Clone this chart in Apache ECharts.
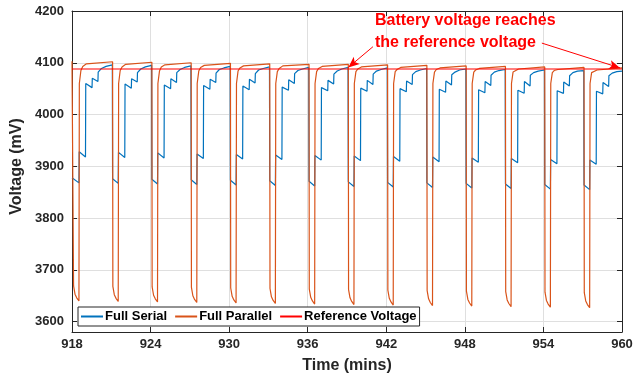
<!DOCTYPE html>
<html>
<head>
<meta charset="utf-8">
<script src="https://cdn.jsdelivr.net/npm/echarts@6/dist/echarts.min.js"></script>
<style>
html, body { margin: 0; padding: 0; background: #fff; }
#chart { width: 642px; height: 379px; }
</style>
</head>
<body>
<div id="chart"></div>
<script>
// x ticks (mins)
const timeTicks = [918, 924, 930, 936, 942, 948, 954, 960];
const refVoltage = 4088;

// Full Serial, [time, mV], one row per cycle
const serialPts = [
    [918, 3878], [918.53, 3868], [918.55, 3928], [919.03, 3918], [919.05, 4060], [919.53, 4052], [919.55, 4070], [919.98, 4064], [920, 4082], [920.25, 4089], [920.6, 4093], [921.08, 4096],
    [921.1, 3876], [921.53, 3867], [921.55, 3927], [922.03, 3917], [922.05, 4059], [922.53, 4051], [922.55, 4069], [922.98, 4063], [923, 4081], [923.25, 4088], [923.6, 4092], [924.08, 4095],
    [924.1, 3875], [924.53, 3866], [924.55, 3926], [925.03, 3916], [925.05, 4057], [925.53, 4050], [925.55, 4069], [925.98, 4062], [926, 4081], [926.25, 4087], [926.6, 4091], [927.08, 4094],
    [927.1, 3874], [927.53, 3865], [927.55, 3924], [928.03, 3915], [928.05, 4056], [928.53, 4049], [928.55, 4068], [928.98, 4062], [929, 4080], [929.25, 4087], [929.6, 4090], [930.08, 4093],
    [930.1, 3873], [930.53, 3864], [930.55, 3923], [931.03, 3914], [931.05, 4055], [931.53, 4048], [931.55, 4068], [931.98, 4061], [932, 4079], [932.25, 4086], [932.6, 4089], [933.08, 4092],
    [933.1, 3872], [933.53, 3863], [933.55, 3922], [934.03, 3913], [934.05, 4053], [934.53, 4047], [934.55, 4067], [934.98, 4060], [935, 4079], [935.25, 4085], [935.6, 4088], [936.08, 4091],
    [936.1, 3871], [936.53, 3862], [936.55, 3921], [937.03, 3912], [937.05, 4052], [937.53, 4046], [937.55, 4066], [937.98, 4059], [938, 4078], [938.25, 4084], [938.6, 4088], [939.08, 4091],
    [939.1, 3870], [939.53, 3861], [939.55, 3920], [940.03, 3911], [940.05, 4051], [940.53, 4045], [940.55, 4066], [940.98, 4058], [941, 4078], [941.25, 4084], [941.6, 4087], [942.08, 4090],
    [942.1, 3869], [942.53, 3860], [942.55, 3919], [943.03, 3910], [943.05, 4050], [943.53, 4044], [943.55, 4065], [943.98, 4058], [944, 4077], [944.25, 4083], [944.6, 4086], [945.08, 4089],
    [945.1, 3868], [945.53, 3859], [945.55, 3918], [946.03, 3909], [946.05, 4049], [946.53, 4043], [946.55, 4065], [946.98, 4057], [947, 4077], [947.25, 4082], [947.6, 4086], [948.08, 4088],
    [948.1, 3867], [948.53, 3858], [948.55, 3916], [949.03, 3908], [949.05, 4048], [949.53, 4042], [949.55, 4064], [949.98, 4056], [950, 4076], [950.25, 4082], [950.6, 4085], [951.08, 4087],
    [951.1, 3866], [951.53, 3857], [951.55, 3915], [952.03, 3907], [952.05, 4047], [952.53, 4041], [952.55, 4064], [952.98, 4055], [953, 4076], [953.25, 4081], [953.6, 4084], [954.08, 4086],
    [954.1, 3865], [954.53, 3856], [954.55, 3913], [955.03, 3905], [955.05, 4046], [955.53, 4041], [955.55, 4063], [955.98, 4055], [956, 4075], [956.25, 4081], [956.6, 4084], [957.08, 4085],
    [957.1, 3864], [957.53, 3855], [957.55, 3912], [958.03, 3904], [958.05, 4045], [958.53, 4040], [958.55, 4062], [958.98, 4054], [959, 4075], [959.25, 4080], [959.6, 4083], [960, 4084]
];

// Full Parallel, [time, mV]
const parallelPts = [
    [918, 4103],
    [918.1, 4103], [918.12, 3669], [918.23, 3653], [918.36, 3646], [918.53, 3640], [918.56, 4060], [918.68, 4085], [918.82, 4093], [919.1, 4098],
    [921.1, 4102], [921.12, 3668], [921.23, 3652], [921.36, 3645], [921.53, 3639], [921.56, 4060], [921.68, 4085], [921.82, 4092], [922.1, 4097],
    [924.1, 4101], [924.12, 3667], [924.23, 3651], [924.36, 3644], [924.53, 3638], [924.56, 4060], [924.68, 4084], [924.82, 4092], [925.1, 4096],
    [927.1, 4100], [927.12, 3666], [927.23, 3650], [927.36, 3643], [927.53, 3637], [927.56, 4060], [927.68, 4084], [927.82, 4091], [928.1, 4095],
    [930.1, 4099], [930.12, 3665], [930.23, 3649], [930.36, 3642], [930.53, 3636], [930.56, 4060], [930.68, 4084], [930.82, 4090], [931.1, 4094],
    [933.1, 4098], [933.12, 3664], [933.23, 3648], [933.36, 3641], [933.53, 3635], [933.56, 4060], [933.68, 4083], [933.82, 4089], [934.1, 4094],
    [936.1, 4097], [936.12, 3663], [936.23, 3647], [936.36, 3640], [936.53, 3634], [936.56, 4060], [936.68, 4083], [936.82, 4089], [937.1, 4093],
    [939.1, 4097], [939.12, 3662], [939.23, 3646], [939.36, 3639], [939.53, 3633], [939.56, 4060], [939.68, 4083], [939.82, 4088], [940.1, 4092],
    [942.1, 4096], [942.12, 3661], [942.23, 3645], [942.36, 3638], [942.53, 3632], [942.56, 4060], [942.68, 4083], [942.82, 4087], [943.1, 4091],
    [945.1, 4095], [945.12, 3660], [945.23, 3644], [945.36, 3637], [945.53, 3631], [945.56, 4060], [945.68, 4082], [945.82, 4087], [946.1, 4090],
    [948.1, 4094], [948.12, 3659], [948.23, 3643], [948.36, 3636], [948.53, 3630], [948.56, 4060], [948.68, 4082], [948.82, 4086], [949.1, 4089],
    [951.1, 4093], [951.12, 3658], [951.23, 3642], [951.36, 3635], [951.53, 3629], [951.56, 4060], [951.68, 4082], [951.82, 4085], [952.1, 4088],
    [954.1, 4092], [954.12, 3657], [954.23, 3641], [954.36, 3634], [954.53, 3628], [954.56, 4060], [954.68, 4081], [954.82, 4085], [955.1, 4087],
    [957.1, 4091], [957.12, 3656], [957.23, 3640], [957.36, 3633], [957.53, 3627], [957.56, 4060], [957.68, 4081], [957.82, 4084], [958.1, 4086],
    [960, 4090]
];

const refPts = [[918, refVoltage], [960, refVoltage]];

// annotation arrows [from, to] in data coords
const arrowCoords = [
    [[940.98, 4131], [939.1, 4091]],
    [[953.88, 4138], [959.85, 4090]]
];

const FONT = '"Liberation Sans", Arial, Helvetica, sans-serif';
const AXIS_COLOR = '#262626';

var myChart = echarts.init(document.getElementById('chart'), null, { renderer: 'canvas' });

function boxAxis(extra) {
    return Object.assign({
        axisLine: { show: true, lineStyle: { color: AXIS_COLOR, width: 1 } },
        axisTick: { show: true, inside: true, length: 5, lineStyle: { color: AXIS_COLOR } },
        axisLabel: { show: false },
        splitLine: { show: false }
    }, extra);
}

var option = {
    animation: false,
    backgroundColor: '#fff',
    grid: { left: 72, right: 20, top: 11, bottom: 46 },
    legend: {
        left: 78,
        top: 307,
        padding: [3, 3, 3, 3],
        icon: 'rect',
        itemWidth: 22,
        itemHeight: 2,
        itemGap: 8,
        backgroundColor: '#fff',
        borderColor: AXIS_COLOR,
        borderWidth: 1,
        borderRadius: 0,
        textStyle: { fontFamily: FONT, fontWeight: 'bold', fontSize: 13, color: '#000', padding: [0, 0, 0, -3] },
        data: ['Full Serial', 'Full Parallel', 'Reference Voltage']
    },
    xAxis: [
        {
            type: 'value',
            min: timeTicks[0],
            max: timeTicks[timeTicks.length - 1],
            interval: 6,
            name: 'Time (mins)',
            nameLocation: 'middle',
            nameGap: 26,
            nameTextStyle: { fontFamily: FONT, fontWeight: 'bold', fontSize: 16, color: AXIS_COLOR },
            axisLine: { show: true, lineStyle: { color: AXIS_COLOR, width: 1 } },
            axisTick: { show: true, inside: true, length: 5, lineStyle: { color: AXIS_COLOR } },
            axisLabel: { margin: 6, fontFamily: FONT, fontWeight: 'bold', fontSize: 13, color: AXIS_COLOR },
            splitLine: { show: true, lineStyle: { color: '#dfdfdf', width: 1 } }
        },
        boxAxis({ type: 'value', position: 'top', min: 918, max: 960, interval: 6 })
    ],
    yAxis: [
        {
            type: 'value',
            min: 3580,
            max: 4200,
            splitNumber: 6,
            name: 'Voltage (mV)',
            nameLocation: 'middle',
            nameGap: 42,
            nameTextStyle: { fontFamily: FONT, fontWeight: 'bold', fontSize: 16, color: AXIS_COLOR, padding: [0, 0, 0, 10] },
            axisLine: { show: true, lineStyle: { color: AXIS_COLOR, width: 1 } },
            axisTick: { show: true, inside: true, length: 5, lineStyle: { color: AXIS_COLOR } },
            axisLabel: {
                margin: 8, fontFamily: FONT, fontWeight: 'bold', fontSize: 13, color: AXIS_COLOR,
                formatter: function (v) { return v % 100 === 0 ? String(v) : ''; }
            },
            splitLine: { show: true, lineStyle: { color: '#dfdfdf', width: 1 } }
        },
        boxAxis({ type: 'value', position: 'right', min: 3580, max: 4200, splitNumber: 6 })
    ],
    graphic: [
        {
            type: 'text',
            left: 375,
            top: 10,
            z: 100,
            style: {
                text: 'Battery voltage reaches\nthe reference voltage',
                font: 'bold 16px ' + FONT,
                fill: '#ff0000',
                lineHeight: 22
            }
        }
    ],
    series: [
        {
            name: 'Full Serial',
            type: 'line',
            data: serialPts,
            symbol: 'none',
            lineStyle: { color: '#0072BD', width: 1.2 },
            itemStyle: { color: '#0072BD' }
        },
        {
            name: 'Full Parallel',
            type: 'line',
            data: parallelPts,
            symbol: 'none',
            lineStyle: { color: '#D95319', width: 1.2 },
            itemStyle: { color: '#D95319' }
        },
        {
            name: 'Reference Voltage',
            type: 'line',
            data: refPts,
            symbol: 'none',
            lineStyle: { color: '#ff0000', width: 1.2 },
            itemStyle: { color: '#ff0000' },
            markLine: {
                silent: true,
                symbol: ['none', 'arrow'],
                symbolSize: [7, 11],
                label: { show: false },
                lineStyle: { color: '#ff0000', width: 1, type: 'solid' },
                data: arrowCoords.map(function (a) {
                    return [{ coord: a[0] }, { coord: a[1] }];
                })
            }
        }
    ]
};

option && myChart.setOption(option);
</script>
</body>
</html>
